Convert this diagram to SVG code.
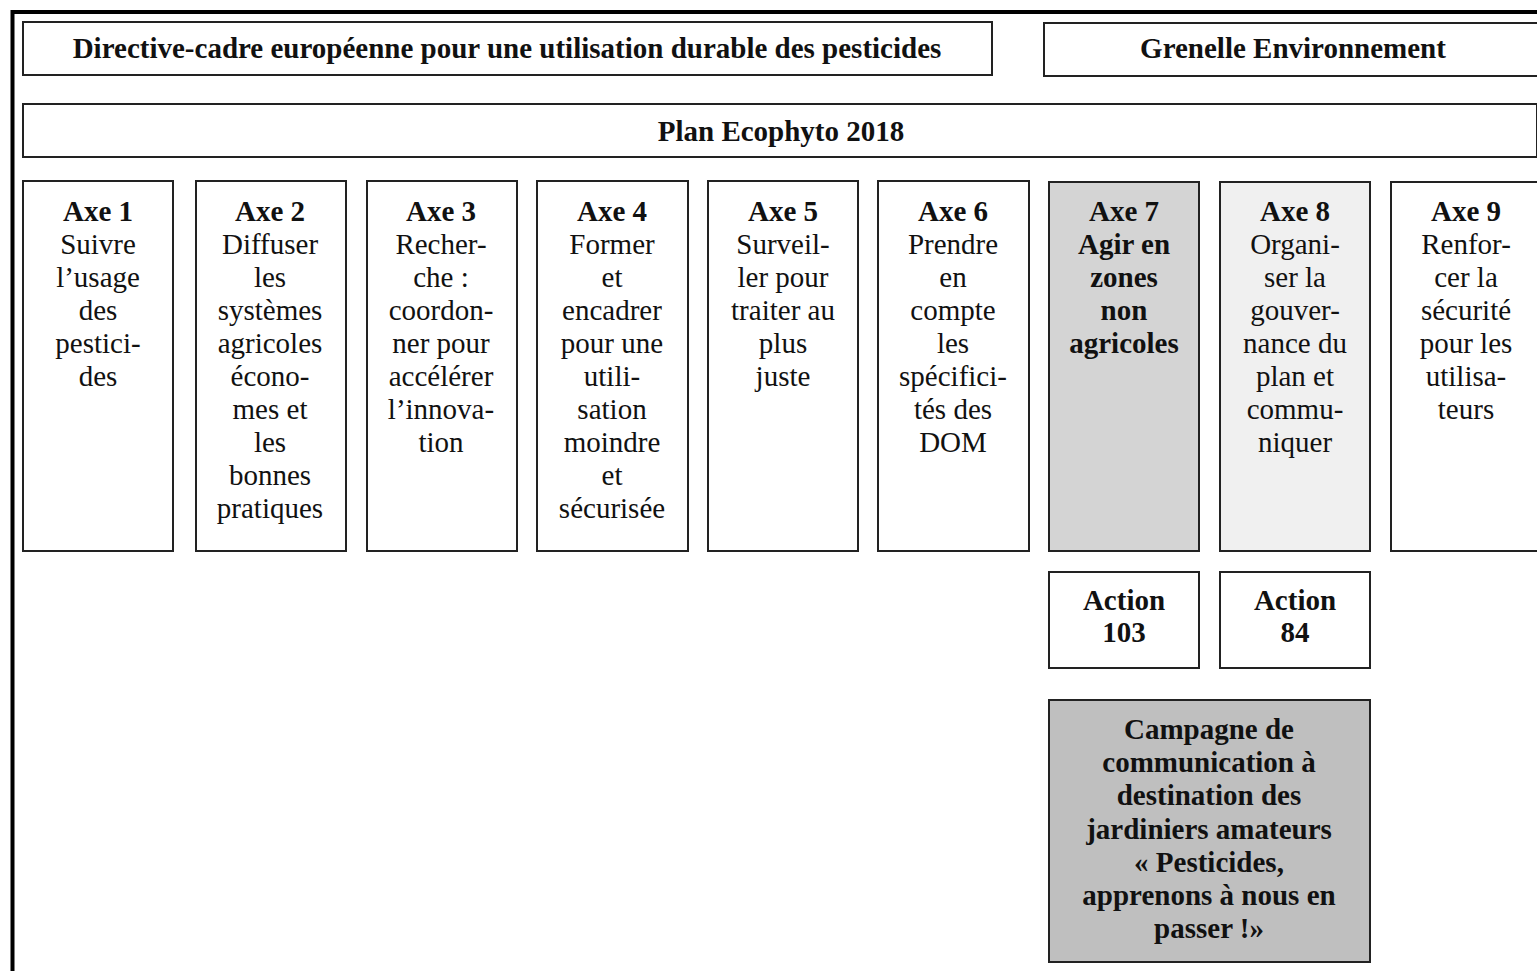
<svg xmlns="http://www.w3.org/2000/svg" width="1537" height="971" viewBox="0 0 1537 971">
<style>
.box{fill:#fff;stroke:#222;stroke-width:2}
.t{font-size:29px;fill:#111;text-anchor:middle}
.b{font-weight:bold}
</style>
<rect x="0" y="0" width="1537" height="971" fill="#fff"/>
<g id="frame"><path d="M12.5,971 V12 H1540" fill="none" stroke="#000" stroke-width="4"/></g>
<g font-family="'Liberation Serif', 'DejaVu Serif', serif">
<g id="directive"><rect class="box" x="23" y="22" width="969" height="53"/><text class="t b" x="507" y="58">Directive-cadre européenne pour une utilisation durable des pesticides</text></g>
<g id="grenelle"><rect class="box" x="1044" y="23" width="500" height="53"/><text class="t b" x="1293" y="58">Grenelle Environnement</text></g>
<g id="plan"><rect class="box" x="23" y="104" width="1514" height="53"/><text class="t b" x="781" y="141">Plan Ecophyto 2018</text></g>
<g id="axe1"><rect class="box" x="23" y="181" width="150" height="370"/><text class="t" x="98" y="221"><tspan class="b" x="98">Axe 1</tspan><tspan x="98" dy="33">Suivre</tspan><tspan x="98" dy="33">l’usage</tspan><tspan x="98" dy="33">des</tspan><tspan x="98" dy="33">pestici-</tspan><tspan x="98" dy="33">des</tspan></text></g>
<g id="axe2"><rect class="box" x="196" y="181" width="150" height="370"/><text class="t" x="270" y="221"><tspan class="b" x="270">Axe 2</tspan><tspan x="270" dy="33">Diffuser</tspan><tspan x="270" dy="33">les</tspan><tspan x="270" dy="33">systèmes</tspan><tspan x="270" dy="33">agricoles</tspan><tspan x="270" dy="33">écono-</tspan><tspan x="270" dy="33">mes et</tspan><tspan x="270" dy="33">les</tspan><tspan x="270" dy="33">bonnes</tspan><tspan x="270" dy="33">pratiques</tspan></text></g>
<g id="axe3"><rect class="box" x="367" y="181" width="150" height="370"/><text class="t" x="441" y="221"><tspan class="b" x="441">Axe 3</tspan><tspan x="441" dy="33">Recher-</tspan><tspan x="441" dy="33">che :</tspan><tspan x="441" dy="33">coordon-</tspan><tspan x="441" dy="33">ner pour</tspan><tspan x="441" dy="33">accélérer</tspan><tspan x="441" dy="33">l’innova-</tspan><tspan x="441" dy="33">tion</tspan></text></g>
<g id="axe4"><rect class="box" x="537" y="181" width="151" height="370"/><text class="t" x="612" y="221"><tspan class="b" x="612">Axe 4</tspan><tspan x="612" dy="33">Former</tspan><tspan x="612" dy="33">et</tspan><tspan x="612" dy="33">encadrer</tspan><tspan x="612" dy="33">pour une</tspan><tspan x="612" dy="33">utili-</tspan><tspan x="612" dy="33">sation</tspan><tspan x="612" dy="33">moindre</tspan><tspan x="612" dy="33">et</tspan><tspan x="612" dy="33">sécurisée</tspan></text></g>
<g id="axe5"><rect class="box" x="708" y="181" width="150" height="370"/><text class="t" x="783" y="221"><tspan class="b" x="783">Axe 5</tspan><tspan x="783" dy="33">Surveil-</tspan><tspan x="783" dy="33">ler pour</tspan><tspan x="783" dy="33">traiter au</tspan><tspan x="783" dy="33">plus</tspan><tspan x="783" dy="33">juste</tspan></text></g>
<g id="axe6"><rect class="box" x="878" y="181" width="151" height="370"/><text class="t" x="953" y="221"><tspan class="b" x="953">Axe 6</tspan><tspan x="953" dy="33">Prendre</tspan><tspan x="953" dy="33">en</tspan><tspan x="953" dy="33">compte</tspan><tspan x="953" dy="33">les</tspan><tspan x="953" dy="33">spécifici-</tspan><tspan x="953" dy="33">tés des</tspan><tspan x="953" dy="33">DOM</tspan></text></g>
<g id="axe7"><rect class="box" x="1049" y="182" width="150" height="369" style="fill:#d4d4d4"/><text class="t b" x="1124" y="221"><tspan x="1124">Axe 7</tspan><tspan x="1124" dy="33">Agir en</tspan><tspan x="1124" dy="33">zones</tspan><tspan x="1124" dy="33">non</tspan><tspan x="1124" dy="33">agricoles</tspan></text></g>
<g id="axe8"><rect class="box" x="1220" y="182" width="150" height="369" style="fill:#f0f0f0"/><text class="t" x="1295" y="221"><tspan class="b" x="1295">Axe 8</tspan><tspan x="1295" dy="33">Organi-</tspan><tspan x="1295" dy="33">ser la</tspan><tspan x="1295" dy="33">gouver-</tspan><tspan x="1295" dy="33">nance du</tspan><tspan x="1295" dy="33">plan et</tspan><tspan x="1295" dy="33">commu-</tspan><tspan x="1295" dy="33">niquer</tspan></text></g>
<g id="axe9"><rect class="box" x="1391" y="182" width="152" height="369"/><text class="t" x="1466" y="221"><tspan class="b" x="1466">Axe 9</tspan><tspan x="1466" dy="33">Renfor-</tspan><tspan x="1466" dy="33">cer la</tspan><tspan x="1466" dy="33">sécurité</tspan><tspan x="1466" dy="33">pour les</tspan><tspan x="1466" dy="33">utilisa-</tspan><tspan x="1466" dy="33">teurs</tspan></text></g>
<g id="action103"><rect class="box" x="1049" y="572" width="150" height="96"/><text class="t b" x="1124" y="610"><tspan x="1124">Action</tspan><tspan x="1124" dy="32">103</tspan></text></g>
<g id="action84"><rect class="box" x="1220" y="572" width="150" height="96"/><text class="t b" x="1295" y="610"><tspan x="1295">Action</tspan><tspan x="1295" dy="32">84</tspan></text></g>
<g id="campagne"><rect class="box" x="1049" y="700" width="321" height="262" style="fill:#bfbfbf"/><text class="t b" x="1209" y="739"><tspan x="1209">Campagne de</tspan><tspan x="1209" dy="33.2">communication à</tspan><tspan x="1209" dy="33.2">destination des</tspan><tspan x="1209" dy="33.2">jardiniers amateurs</tspan><tspan x="1209" dy="33.2">« Pesticides,</tspan><tspan x="1209" dy="33.2">apprenons à nous en</tspan><tspan x="1209" dy="33.2">passer !»</tspan></text></g>
</g>
<g id="connectors"></g>
</svg>
